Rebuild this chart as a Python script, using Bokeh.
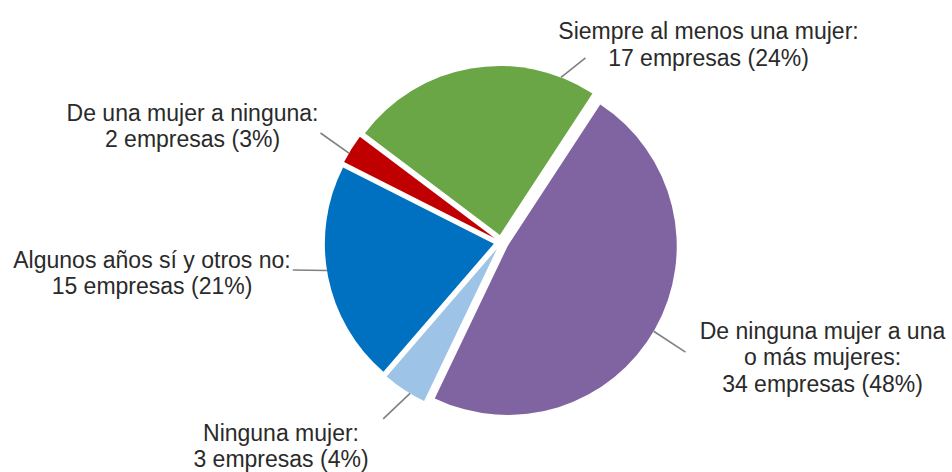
import math
from bokeh.plotting import figure
from bokeh.models import Range1d, ColumnDataSource
from bokeh.core.properties import value
from bokeh.embed import file_html
from bokeh.resources import INLINE

# ---- data ----
categories = [
    "Siempre al menos una mujer:",
    "De ninguna mujer a una o más mujeres:",
    "Ninguna mujer:",
    "Algunos años sí y otros no:",
    "De una mujer a ninguna:",
]
name_lines = [
    ["Siempre al menos una mujer:"],
    ["De ninguna mujer a una", "o más mujeres:"],
    ["Ninguna mujer:"],
    ["Algunos años sí y otros no:"],
    ["De una mujer a ninguna:"],
]
counts = [17, 34, 3, 15, 2]
unit_label = "empresas"

# ---- style / layout ----
colors = ["#6AA546", "#8064A2", "#9DC3E6", "#0070C0", "#C00000"]
W, H = 952, 472
PAGE_H = 472


def sy(py):
    return PAGE_H - py


CX, CY = 500.7, sy(241.8)
R = 169
EXPLODE = 7.5
START_CW = -53.0  # degrees clockwise from 12 o'clock

# leader line: angle on each slice arc (cw from top) and end point (screen px)
leader_angle = [21.2, 120.3, 211.0, 260.9, 300.3]
leader_end = [(585, 57.3), (685, 351.7), (382.7, 418.3), (292.3, 269.5), (320, 132.5)]
# label anchors: center x, first baseline (screen px)
label_anchor = [(708, 30.7), (822, 330.0), (280.5, 432.0), (151.5, 259.0), (192, 112.3)]
LINE_STEP = 26.6
FONT = "Liberation Sans"
FONT_SIZE = "23px"
TEXT_COLOR = "#2a2a2a"

p = figure(width=W, height=H, x_range=Range1d(0, W), y_range=Range1d(0, H),
           output_backend="svg", toolbar_location=None, min_border=0,
           x_axis_location=None, y_axis_location=None)
p.grid.visible = False
p.outline_line_color = None
p.background_fill_color = "white"
p.border_fill_color = "white"

total = sum(counts)
wx, wy, ws, we, wc = [], [], [], [], []
lx0, ly0, lx1, ly1 = [], [], [], []
tx, ty, tt = [], [], []
theta = START_CW
for i, c in enumerate(counts):
    span = 360.0 * c / total
    a0, a1 = theta, theta + span
    mid = (a0 + a1) / 2.0
    phi = math.radians(90 - mid)
    ox = CX + EXPLODE * math.cos(phi)
    oy = CY + EXPLODE * math.sin(phi)
    wx.append(ox)
    wy.append(oy)
    ws.append(math.radians(90 - a1))
    we.append(math.radians(90 - a0))
    wc.append(colors[i])
    theta = a1

    la = math.radians(90 - leader_angle[i])
    lx0.append(ox + R * math.cos(la))
    ly0.append(oy + R * math.sin(la))
    lx1.append(leader_end[i][0])
    ly1.append(sy(leader_end[i][1]))

    pct = round(100.0 * c / total)
    lines = name_lines[i] + [f"{c} {unit_label} ({pct}%)"]
    ax, ay = label_anchor[i]
    for k, line in enumerate(lines):
        tx.append(ax)
        ty.append(sy(ay + k * LINE_STEP))
        tt.append(line)

src = ColumnDataSource(dict(x=wx, y=wy, start=ws, end=we, color=wc, name=categories))
p.wedge(x="x", y="y", radius=R, start_angle="start", end_angle="end",
        fill_color="color", line_color=None, source=src)

p.segment(x0=lx0, y0=ly0, x1=lx1, y1=ly1, line_color="#808080", line_width=1.6)

p.text(x=tx, y=ty, text=tt, text_font=value(FONT), text_font_size=FONT_SIZE,
       text_align="center", text_baseline="alphabetic", text_color=TEXT_COLOR)

open("out.html", "w").write(file_html(p, INLINE))
